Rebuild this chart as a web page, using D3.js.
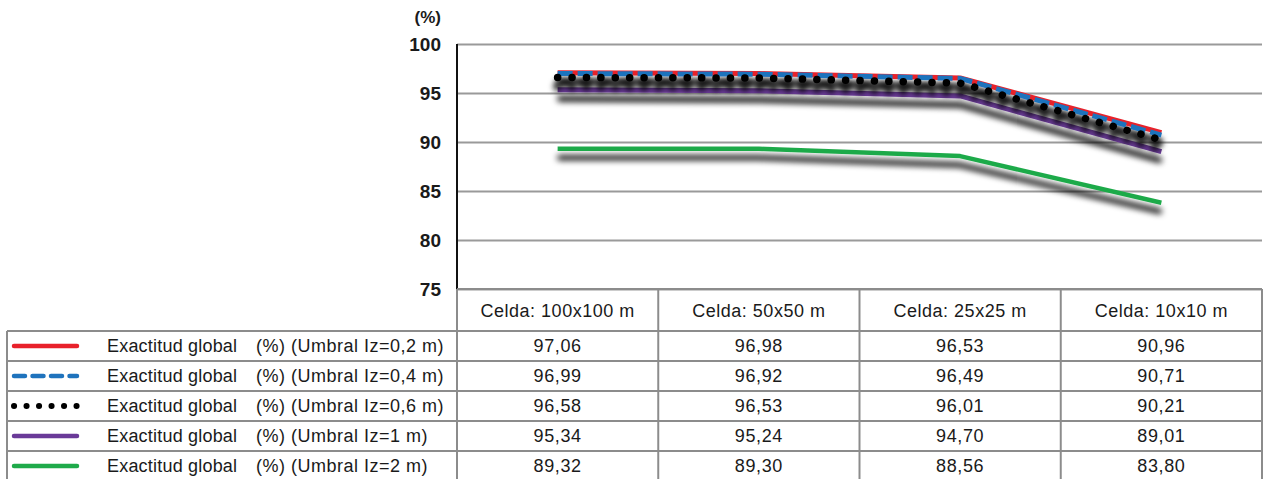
<!DOCTYPE html>
<html>
<head>
<meta charset="utf-8">
<script src="https://cdn.jsdelivr.net/npm/d3@7"></script>
<style>
  html, body { margin: 0; padding: 0; background: #fff; }
  svg { display: block; font-family: "Liberation Sans", Arial, Helvetica, sans-serif; }
</style>
</head>
<body>
<svg id="chart" width="1264" height="479"></svg>
<script>
// Cell sizes (x axis) and accuracy values per Iz threshold
const categories = ["Celda: 100x100 m", "Celda: 50x50 m", "Celda: 25x25 m", "Celda: 10x10 m"];
const seriesLabel = "Exactitud global";
const seriesUnits = [
  "(%) (Umbral Iz=0,2 m)",
  "(%) (Umbral Iz=0,4 m)",
  "(%) (Umbral Iz=0,6 m)",
  "(%) (Umbral Iz=1 m)",
  "(%) (Umbral Iz=2 m)"
];
const iz02 = [97.06, 96.98, 96.53, 90.96];
const iz04 = [96.99, 96.92, 96.49, 90.71];
const iz06 = [96.58, 96.53, 96.01, 90.21];
const iz1  = [95.34, 95.24, 94.70, 89.01];
const iz2  = [89.32, 89.30, 88.56, 83.80];
const yTicks = [75, 80, 85, 90, 95, 100];

const seriesValues = [iz02, iz04, iz06, iz1, iz2];
const styles = [
  { color: "#e8212b", width: 5, dash: null, cap: "butt" },
  { color: "#1f73bd", width: 5, dash: "15 5", cap: "butt" },
  { color: "#000000", width: 7.5, dash: "0.1 14.3", cap: "round" },
  { color: "#6a3a98", width: 5, dash: null, cap: "butt" },
  { color: "#1faa4a", width: 4.5, dash: null, cap: "butt" }
];

const svg = d3.select("#chart");
const plotLeft = 457, plotRight = 1262, plotTop = 44, plotBottom = 289;
const tableLeft = 7, headerBottom = 331, rowH = 30;

const x = d3.scaleBand().domain(categories).range([plotLeft, plotRight]).padding(0);
const y = d3.scaleLinear().domain([75, 100]).range([plotBottom, plotTop]);

// Drop shadow filter for the lines
const defs = svg.append("defs");
const f = defs.append("filter").attr("id", "shadow")
  .attr("x", "-5%").attr("y", "-60%").attr("width", "110%").attr("height", "300%");
f.append("feGaussianBlur").attr("in", "SourceAlpha").attr("stdDeviation", 3.1).attr("result", "b");
f.append("feOffset").attr("in", "b").attr("dx", 0).attr("dy", 9).attr("result", "o");
f.append("feComponentTransfer").attr("in", "o").attr("result", "s")
  .append("feFuncA").attr("type", "linear").attr("slope", 1.1);
const m = f.append("feMerge");
m.append("feMergeNode").attr("in", "s");
m.append("feMergeNode").attr("in", "SourceGraphic");

// Gridlines
const yAxis = d3.axisLeft(y).tickValues(yTicks).tickSize(-(plotRight - plotLeft)).tickPadding(16).tickFormat(d3.format("d"));
const gy = svg.append("g").attr("transform", `translate(${plotLeft},0)`).call(yAxis);
gy.select(".domain").remove();
gy.selectAll(".tick line").attr("stroke", "#9a9a9a").attr("stroke-width", 2);
gy.selectAll(".tick text")
  .attr("font-size", 19).attr("font-weight", "bold").attr("fill", "#1a1a1a")
  .attr("font-family", "Liberation Sans, Arial, sans-serif");

// Vertical axis line
svg.append("line").attr("x1", plotLeft).attr("x2", plotLeft).attr("y1", plotTop).attr("y2", plotBottom)
  .attr("stroke", "#111").attr("stroke-width", 2);

svg.append("text").attr("x", 441).attr("y", 23).attr("text-anchor", "end")
  .attr("font-size", 17).attr("font-weight", "bold").attr("fill", "#1a1a1a").text("(%)");

// Lines
const line = d3.line().x((d, i) => x(categories[i]) + x.bandwidth() / 2).y(d => y(d));
const drawOrder = [4, 3, 0, 1, 2];
drawOrder.forEach(k => {
  const s = styles[k];
  svg.append("path").datum(seriesValues[k])
    .attr("d", line).attr("fill", "none")
    .attr("stroke", s.color).attr("stroke-width", s.width)
    .attr("stroke-dasharray", s.dash)
    .attr("stroke-linecap", s.cap)
    .attr("stroke-linejoin", "round")
    .attr("filter", "url(#shadow)");
});

// Data table
const tbl = svg.append("g");
const gridColor = "#8c8c8c";
const tableBottom = headerBottom + rowH * seriesUnits.length;
categories.forEach(c => {
  tbl.append("line").attr("x1", x(c)).attr("x2", x(c)).attr("y1", plotBottom).attr("y2", tableBottom)
    .attr("stroke", gridColor).attr("stroke-width", 2);
});
tbl.append("line").attr("x1", tableLeft).attr("x2", tableLeft).attr("y1", headerBottom).attr("y2", tableBottom)
  .attr("stroke", gridColor).attr("stroke-width", 2);
tbl.append("line").attr("x1", plotRight).attr("x2", plotRight).attr("y1", plotBottom).attr("y2", tableBottom)
  .attr("stroke", gridColor).attr("stroke-width", 2);
d3.range(seriesUnits.length + 1).forEach(i => {
  const yy = headerBottom + i * rowH;
  tbl.append("line").attr("x1", tableLeft).attr("x2", plotRight).attr("y1", yy).attr("y2", yy)
    .attr("stroke", gridColor).attr("stroke-width", 2);
});
tbl.append("line").attr("x1", plotLeft).attr("x2", plotRight).attr("y1", plotBottom).attr("y2", plotBottom)
  .attr("stroke", gridColor).attr("stroke-width", 2);

categories.forEach(c => {
  tbl.append("text").attr("x", x(c) + x.bandwidth() / 2).attr("y", (plotBottom + headerBottom) / 2 + 7)
    .attr("text-anchor", "middle").attr("font-size", 18).attr("letter-spacing", 0.5)
    .attr("fill", "#1a1a1a").text(c);
});

const fmt = v => v.toFixed(2).replace(".", ",");
seriesUnits.forEach((units, k) => {
  const cy = headerBottom + k * rowH + rowH / 2;
  const s = styles[k];
  // legend key
  tbl.append("line").attr("x1", 14).attr("x2", 77).attr("y1", cy).attr("y2", cy)
    .attr("stroke", s.color)
    .attr("stroke-width", k === 2 ? 6 : 4.5)
    .attr("stroke-linecap", "round")
    .attr("stroke-dasharray", k === 1 ? "11 7.5" : (k === 2 ? "0.1 12.4" : null));
  tbl.append("text").attr("x", 107).attr("y", cy + 6).attr("font-size", 18)
    .attr("letter-spacing", 0.2).attr("fill", "#1a1a1a").text(seriesLabel);
  tbl.append("text").attr("x", 256).attr("y", cy + 6).attr("font-size", 18)
    .attr("letter-spacing", 0.5).attr("fill", "#1a1a1a").text(units);
  seriesValues[k].forEach((v, i) => {
    tbl.append("text").attr("x", x(categories[i]) + x.bandwidth() / 2).attr("y", cy + 6)
      .attr("text-anchor", "middle").attr("font-size", 18).attr("letter-spacing", 0.6)
      .attr("fill", "#1a1a1a").text(fmt(v));
  });
});
</script>
</body>
</html>
